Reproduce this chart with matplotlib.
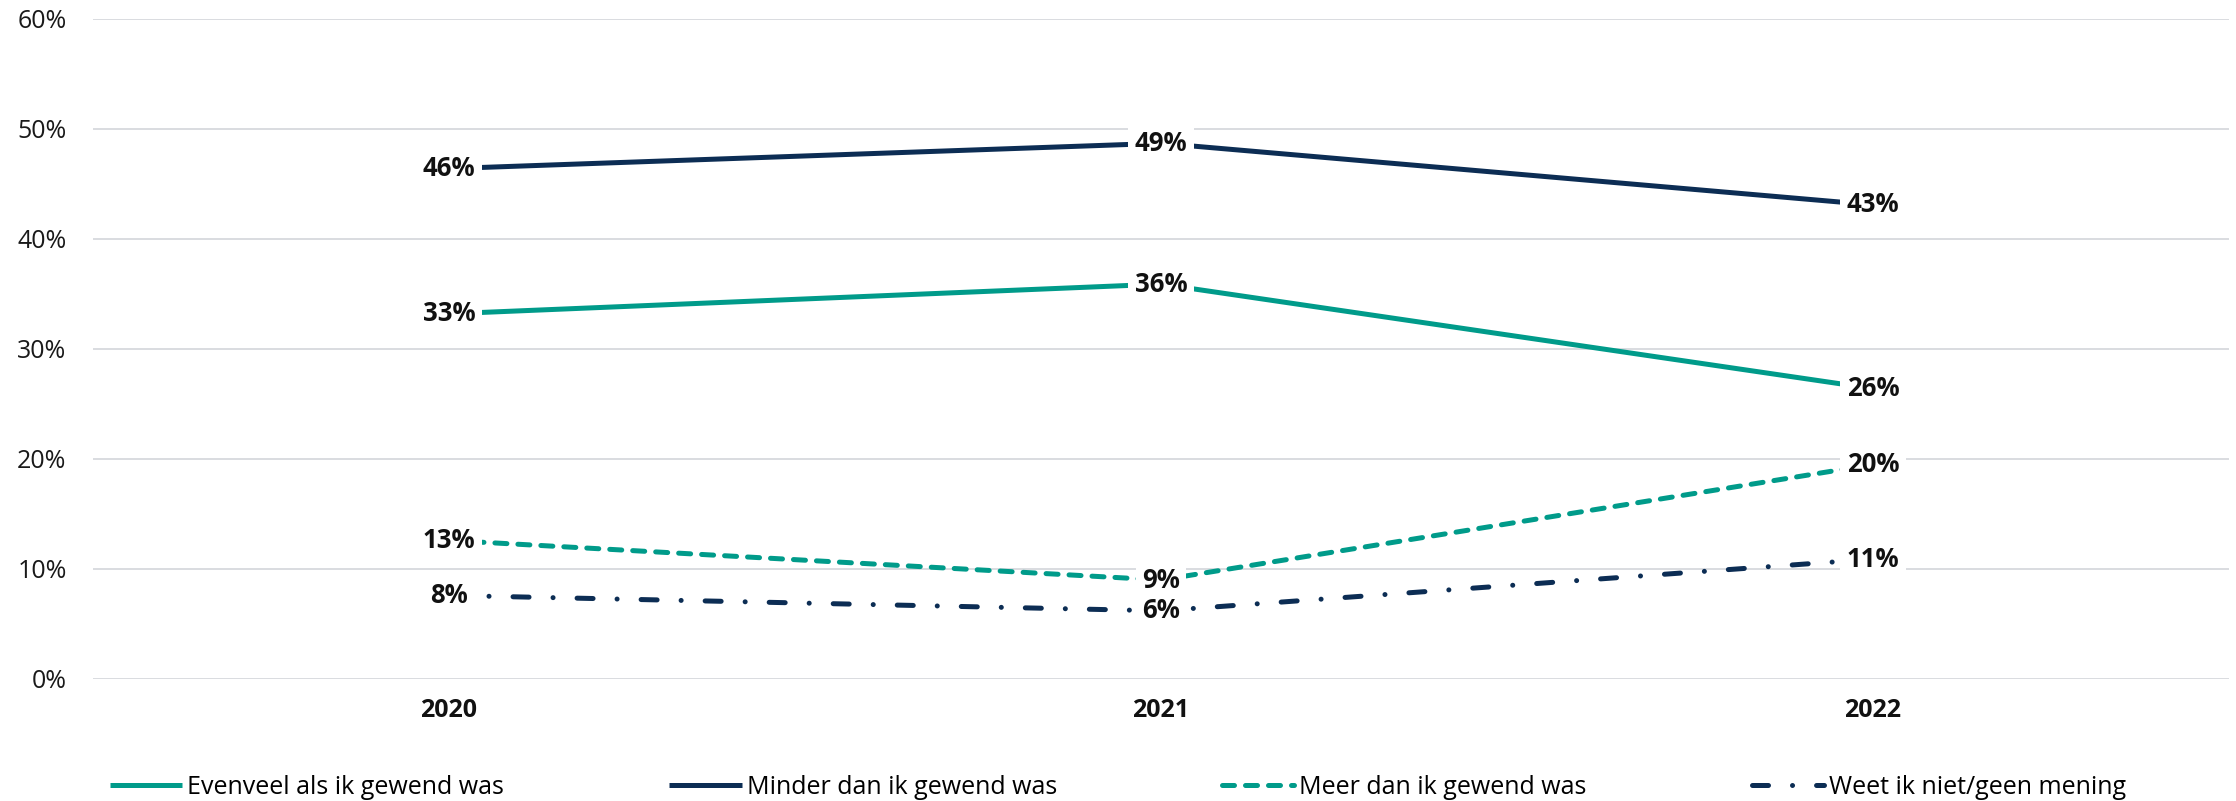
import matplotlib
matplotlib.use("Agg")
import matplotlib.pyplot as plt

years = ["2020", "2021", "2022"]
evenveel = [33.2, 35.9, 26.4]
minder = [46.4, 48.7, 43.1]
meer = [12.6, 9.0, 19.5]
weet = [7.6, 6.2, 10.9]
series_names = ["Evenveel als ik gewend was", "Minder dan ik gewend was",
                "Meer dan ik gewend was", "Weet ik niet/geen mening"]
y_ticks = [0, 10, 20, 30, 40, 50, 60]

teal = "#009B8A"
navy = "#0C2D54"

plt.rcParams['font.family'] = ['Open Sans', 'DejaVu Sans']

fig = plt.figure(figsize=(22.36, 8.01), dpi=100)
ax = fig.add_axes([93/2236, 1-679/801, (2229-93)/2236, (679-19)/801])

x = list(range(len(years)))
styles = [
    (evenveel, teal, None),
    (minder, navy, None),
    (meer, teal, (2.4, 2.2)),
    (weet, navy, (3.2, 4.8, 0.01, 4.8)),
]
for (vals, col, dash), name in zip(styles, series_names):
    line, = ax.plot(x, vals, color=col, lw=3.6, label=name,
                    solid_capstyle='butt', dash_capstyle='round', zorder=3)
    if dash is not None:
        line.set_dashes(dash)
    for xi, v in zip(x, vals):
        lab = f"{round(v)}%"
        # white background box (drawn beneath every label text)
        ax.text(xi, v, lab, ha='center', va='center', fontsize=18.5,
                fontweight='bold', color='none', zorder=4,
                bbox=dict(boxstyle='square,pad=0.25', fc='white', ec='none'))
        ax.text(xi, v, lab, ha='center', va='center', fontsize=18.5,
                fontweight='bold', color='#111111', zorder=6)

ax.set_xlim(-0.5, 2.5)
ax.set_ylim(0, 60)
ax.set_yticks(y_ticks)
ax.set_yticklabels([f"{t}%" for t in y_ticks])
ax.set_xticks(x)
ax.set_xticklabels(years, fontweight='bold')
ax.tick_params(axis='y', length=0, pad=19, labelsize=18, labelcolor='#1a1a1a')
ax.tick_params(axis='x', length=0, pad=14, labelsize=18, labelcolor='#111111')
ax.grid(axis='y', color='#D9DCE0', lw=1.4, zorder=0)
ax.set_axisbelow(True)
for s in ax.spines.values():
    s.set_visible(False)

fig.legend(loc='center', bbox_to_anchor=(0.5, 14/801), ncol=4, frameon=False,
           fontsize=18, handlelength=2.9, handletextpad=0.2, columnspacing=6.6)

fig.savefig("out.png", dpi=100, facecolor='white')
